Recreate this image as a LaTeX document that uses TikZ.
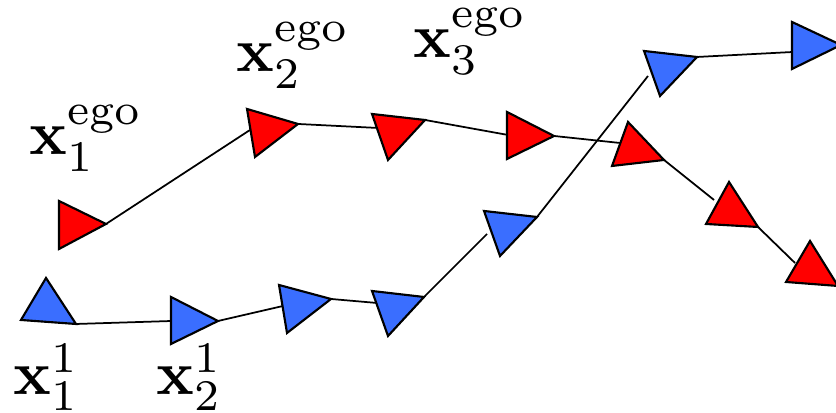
\documentclass[tikz,border=0pt]{standalone}
\usepackage{amsmath}
\definecolor{egored}{RGB}{255,0,0}
\definecolor{othblue}{RGB}{58,110,255}
\begin{document}
\begin{tikzpicture}[x=0.16pt,y=-0.16pt,
  link/.style={line width=0.28pt},
  tri/.style={draw=black, line width=0.34pt, line join=miter},
  egotri/.style={tri, fill=egored},
  othtri/.style={tri, fill=othblue},
  lab/.style={anchor=base west, inner sep=0pt}]
\useasboundingbox (0,0) rectangle (836,413);
\clip (0,0) rectangle (836,413);
% ego (red) triangles: vertices a, b, out-tip o, entry point i
\coordinate (r1a) at (59,201); \coordinate (r1b) at (59,249); \coordinate (r1o) at (106,224);
\coordinate (r2a) at (247,109); \coordinate (r2b) at (255,157); \coordinate (r2o) at (298,124); \coordinate (r2i) at (250,130);
\coordinate (r3a) at (372,114); \coordinate (r3b) at (388,160); \coordinate (r3o) at (425,120); \coordinate (r3i) at (378,128);
\coordinate (r4a) at (507,112); \coordinate (r4b) at (507,159); \coordinate (r4o) at (554,136); \coordinate (r4i) at (508,135);
\coordinate (r5a) at (628,122); \coordinate (r5b) at (612,166); \coordinate (r5o) at (664,160); \coordinate (r5i) at (620,143);
\coordinate (r6a) at (729,182); \coordinate (r6b) at (706,224); \coordinate (r6o) at (758,227); \coordinate (r6i) at (714,200);
\coordinate (r7a) at (810,241); \coordinate (r7b) at (786,282); \coordinate (r7o) at (838,286); \coordinate (r7i) at (795,263);
% other agent (blue) triangles
\coordinate (b1a) at (46,278); \coordinate (b1b) at (21,320); \coordinate (b1o) at (76,324);
\coordinate (b2a) at (171,297); \coordinate (b2b) at (171,344); \coordinate (b2o) at (218,321); \coordinate (b2i) at (172,321);
\coordinate (b3a) at (279,285); \coordinate (b3b) at (287,333); \coordinate (b3o) at (331,299); \coordinate (b3i) at (283,306);
\coordinate (b4a) at (372,291); \coordinate (b4b) at (388,336); \coordinate (b4o) at (424,297); \coordinate (b4i) at (377,303);
\coordinate (b5a) at (484,211); \coordinate (b5b) at (500,256); \coordinate (b5o) at (537,217); \coordinate (b5i) at (487,234);
\coordinate (b6a) at (644,51); \coordinate (b6b) at (660,96); \coordinate (b6o) at (697,57); \coordinate (b6i) at (648,76);
\coordinate (b7a) at (792,22); \coordinate (b7b) at (792,69); \coordinate (b7o) at (841,45); \coordinate (b7i) at (793,52);
% connectors
\draw[link] (r1o) -- (r2i);
\draw[link] (r2o) -- (r3i);
\draw[link] (r3o) -- (r4i);
\draw[link] (r4o) -- (r5i);
\draw[link] (r5o) -- (r6i);
\draw[link] (r6o) -- (r7i);
\draw[link] (b1o) -- (b2i);
\draw[link] (b2o) -- (b3i);
\draw[link] (b3o) -- (b4i);
\draw[link] (b4o) -- (b5i);
\draw[link] (b5o) -- (b6i);
\draw[link] (b6o) -- (b7i);
% triangles
\foreach \t in {r1,r2,r3,r4,r5,r6,r7}
  \path[egotri] (\t a) -- (\t b) -- (\t o) -- cycle;
\foreach \t in {b1,b2,b3,b4,b5,b6,b7}
  \path[othtri] (\t a) -- (\t b) -- (\t o) -- cycle;
% labels
\node[lab] (l1ego) at (28,155) {$\mathbf{x}_1^{\mathrm{ego}}$};
\node[lab] (l2ego) at (235,72) {$\mathbf{x}_2^{\mathrm{ego}}$};
\node[lab] (l3ego) at (412,58) {$\mathbf{x}_3^{\mathrm{ego}}$};
\node[lab] (l11) at (12,395) {$\mathbf{x}_1^{1}$};
\node[lab] (l21) at (155,395) {$\mathbf{x}_2^{1}$};
\end{tikzpicture}
\end{document}
